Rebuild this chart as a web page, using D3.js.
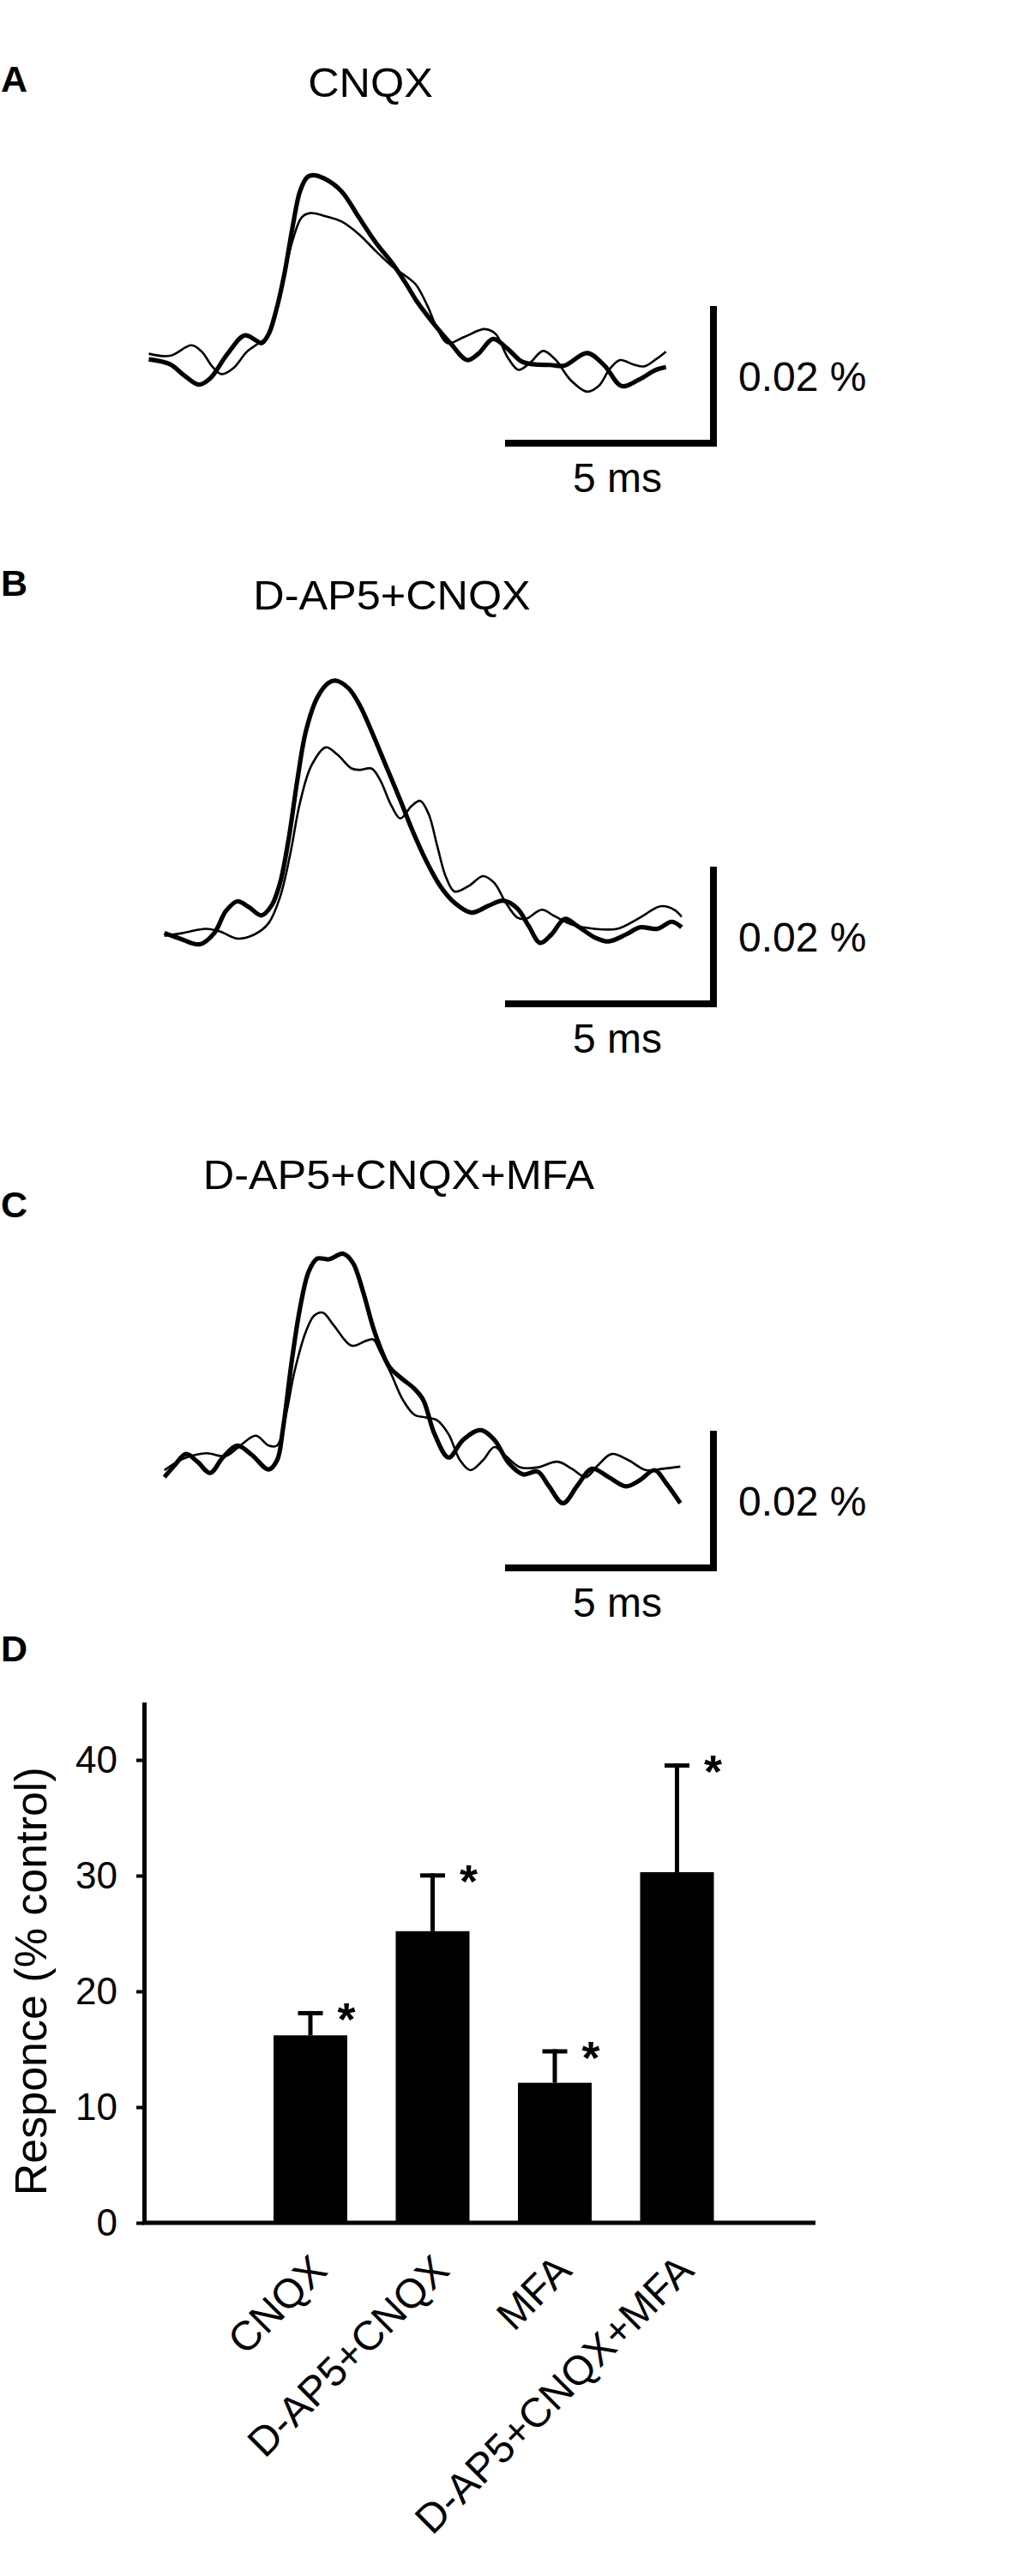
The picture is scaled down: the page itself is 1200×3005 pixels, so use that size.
<!DOCTYPE html>
<html>
<head>
<meta charset="utf-8">
<script src="https://cdn.jsdelivr.net/npm/d3@7/dist/d3.min.js"></script>
<style>
  html, body { margin: 0; padding: 0; background: #fff; }
  svg text { font-family: "Liberation Sans", Arial, Helvetica, sans-serif; fill: #000; }
</style>
</head>
<body>
<svg id="fig" width="1200" height="3005"></svg>
<script>
// ---------------- DATA ----------------
// Traces: [time (ms), response (%)]
const traceA_thick = [[0.01,0.0001],[0.51,-0.0006],[0.85,-0.0022],[1.19,-0.0035],[1.46,-0.0026],[1.86,0.0008],[2.27,0.0035],[2.54,0.0028],[2.67,0.0024],[2.84,0.0037],[3.01,0.0069],[3.21,0.0122],[3.41,0.0191],[3.58,0.0240],[3.75,0.0260],[3.89,0.0263],[4.16,0.0258],[4.56,0.0240],[4.97,0.0203],[5.37,0.0167],[5.78,0.0136],[6.11,0.0106],[6.32,0.0085],[6.72,0.0053],[7.13,0.0024],[7.53,0.0000],[7.79,0.0009],[8.14,0.0030],[8.48,0.0016],[8.81,-0.0002],[9.08,-0.0006],[9.49,-0.0007],[9.82,-0.0008],[10.36,0.0010],[10.77,-0.0008],[11.17,-0.0037],[11.58,-0.0028],[11.98,-0.0014],[12.22,-0.0010]];
const traceA_thin = [[0.01,0.0009],[0.51,0.0006],[1.02,0.0021],[1.26,0.0012],[1.52,-0.0010],[1.73,-0.0020],[2.00,-0.0012],[2.33,0.0012],[2.61,0.0024],[2.81,0.0033],[3.01,0.0065],[3.21,0.0122],[3.41,0.0171],[3.62,0.0203],[3.82,0.0209],[4.16,0.0205],[4.56,0.0197],[4.97,0.0179],[5.37,0.0155],[5.78,0.0132],[6.11,0.0118],[6.32,0.0107],[6.59,0.0077],[6.79,0.0049],[7.06,0.0024],[7.46,0.0033],[7.94,0.0044],[8.20,0.0037],[8.48,0.0004],[8.74,-0.0014],[9.01,-0.0004],[9.32,0.0013],[9.62,0.0000],[9.96,-0.0028],[10.36,-0.0045],[10.63,-0.0037],[10.90,-0.0012],[11.14,0.0000],[11.44,-0.0006],[11.71,-0.0009],[11.98,0.0001],[12.22,0.0012]];
const traceB_thick = [[0.00,0.0002],[0.37,-0.0006],[0.84,-0.0014],[1.18,0.0002],[1.45,0.0033],[1.72,0.0047],[1.99,0.0039],[2.29,0.0027],[2.53,0.0041],[2.73,0.0073],[2.94,0.0138],[3.14,0.0220],[3.34,0.0289],[3.61,0.0337],[3.88,0.0358],[4.05,0.0361],[4.35,0.0350],[4.62,0.0325],[4.89,0.0289],[5.23,0.0240],[5.57,0.0191],[5.84,0.0150],[6.17,0.0106],[6.51,0.0069],[6.85,0.0045],[7.25,0.0031],[7.66,0.0041],[8.00,0.0048],[8.33,0.0037],[8.60,0.0012],[8.87,-0.0012],[9.14,0.0000],[9.45,0.0022],[9.75,0.0012],[10.15,-0.0004],[10.49,-0.0010],[10.90,0.0000],[11.23,0.0010],[11.64,0.0008],[11.98,0.0018],[12.21,0.0010]];
const traceB_thin = [[0.00,-0.0002],[0.44,0.0002],[0.98,0.0008],[1.32,0.0004],[1.72,-0.0006],[2.13,0.0000],[2.46,0.0016],[2.73,0.0053],[2.97,0.0114],[3.20,0.0187],[3.47,0.0240],[3.81,0.0266],[4.08,0.0256],[4.42,0.0236],[4.62,0.0234],[4.89,0.0236],[5.09,0.0220],[5.36,0.0183],[5.57,0.0165],[5.84,0.0183],[6.04,0.0190],[6.24,0.0171],[6.44,0.0126],[6.65,0.0081],[6.85,0.0061],[7.19,0.0069],[7.52,0.0083],[7.79,0.0073],[8.06,0.0045],[8.33,0.0024],[8.53,0.0022],[8.91,0.0035],[9.21,0.0026],[9.62,0.0014],[10.15,0.0008],[10.69,0.0008],[11.23,0.0024],[11.71,0.0040],[12.04,0.0035],[12.21,0.0025]];
const traceC_thick = [[0.00,-0.0010],[0.23,0.0006],[0.51,0.0023],[0.78,0.0012],[1.08,-0.0004],[1.38,0.0018],[1.72,0.0035],[2.06,0.0022],[2.46,0.0001],[2.66,0.0014],[2.80,0.0059],[3.00,0.0152],[3.20,0.0230],[3.41,0.0283],[3.61,0.0301],[3.88,0.0300],[4.22,0.0308],[4.45,0.0295],[4.69,0.0254],[4.96,0.0197],[5.30,0.0148],[5.57,0.0132],[5.90,0.0116],[6.11,0.0100],[6.38,0.0051],[6.71,0.0018],[7.05,0.0043],[7.46,0.0057],[7.79,0.0043],[8.13,0.0010],[8.47,-0.0006],[8.81,-0.0002],[9.07,-0.0022],[9.41,-0.0047],[9.75,-0.0022],[10.09,0.0002],[10.49,-0.0010],[10.90,-0.0023],[11.23,-0.0014],[11.57,0.0000],[11.84,-0.0018],[12.18,-0.0047]];
const traceC_thin = [[0.00,0.0000],[0.44,0.0016],[0.98,0.0024],[1.45,0.0020],[1.79,0.0035],[2.16,0.0049],[2.46,0.0035],[2.66,0.0035],[2.87,0.0079],[3.07,0.0140],[3.34,0.0197],[3.54,0.0220],[3.74,0.0224],[4.01,0.0205],[4.42,0.0177],[4.76,0.0184],[4.93,0.0186],[5.09,0.0169],[5.36,0.0136],[5.63,0.0100],[5.90,0.0079],[6.17,0.0075],[6.44,0.0071],[6.71,0.0051],[6.98,0.0014],[7.22,0.0000],[7.52,0.0014],[7.79,0.0033],[8.06,0.0020],[8.40,0.0004],[8.81,0.0004],[9.28,0.0012],[9.62,0.0002],[9.95,-0.0010],[10.22,0.0006],[10.56,0.0023],[10.96,0.0014],[11.37,0.0000],[11.77,0.0002],[12.18,0.0005]];

const panelLetters = ["A", "B", "C", "D"];
const panelTitles = ["CNQX", "D-AP5+CNQX", "D-AP5+CNQX+MFA"];
const scaleTime = 5;        // ms
const scaleAmp = 0.02;      // %
const scaleTimeLabel = "5 ms";
const scaleAmpLabel = "0.02 %";

// Bar chart (panel D)
const categories = ["CNQX", "D-AP5+CNQX", "MFA", "D-AP5+CNQX+MFA"];
const means = [16.2, 25.2, 12.1, 30.3];
const sems = [2.1, 5.0, 2.9, 9.4];
const significant = [true, true, true, true];
const yTicks = [0, 10, 20, 30, 40];
const yTitle = "Responce (% control)";

// ---------------- DRAW ----------------
const svg = d3.select("#fig");
const FONT_BOLD = 43;

// Panel letters
const letterPos = [[1, 107], [1, 695], [1, 1420], [1, 1938]];
panelLetters.forEach((L, i) => {
  svg.append("text").attr("x", letterPos[i][0]).attr("y", letterPos[i][1])
    .attr("font-size", FONT_BOLD).attr("font-weight", "bold").text(L);
});

// Trace panels layout
const pxPerMs = 49.4, pxPerAmp = 164 / 0.02;
const panels = [
  { title: panelTitles[0], titleX: 432, titleY: 113, x0: 173, y0: 420, barX: 832, barY: 517, thick: traceA_thick, thin: traceA_thin },
  { title: panelTitles[1], titleX: 457, titleY: 711, x0: 191.7, y0: 1090, barX: 832, barY: 1171, thick: traceB_thick, thin: traceB_thin },
  { title: panelTitles[2], titleX: 465, titleY: 1387, x0: 191.7, y0: 1715, barX: 832, barY: 1829, thick: traceC_thick, thin: traceC_thin }
];

panels.forEach(p => {
  const g = svg.append("g");
  const x = d3.scaleLinear().domain([0, 1]).range([p.x0, p.x0 + pxPerMs]);
  const y = d3.scaleLinear().domain([0, 1]).range([p.y0, p.y0 - pxPerAmp]);

  g.append("text").attr("x", 0).attr("y", 0)
    .attr("transform", `translate(${p.titleX},${p.titleY}) scale(1.05,1)`)
    .attr("text-anchor", "middle").attr("font-size", 48).text(p.title);

  const line = d3.line().x(d => x(d[0])).y(d => y(d[1])).curve(d3.curveCatmullRom.alpha(0.5));
  g.append("path").datum(p.thin).attr("d", line)
    .attr("fill", "none").attr("stroke", "#000").attr("stroke-width", 2.6).attr("stroke-linejoin", "round");
  g.append("path").datum(p.thick).attr("d", line)
    .attr("fill", "none").attr("stroke", "#000").attr("stroke-width", 5.2).attr("stroke-linejoin", "round");

  // scale bars
  const hLen = x(scaleTime) - x(0);
  const vLen = y(0) - y(scaleAmp);
  const sw = 8;
  g.append("line").attr("x1", p.barX + sw / 2 - hLen).attr("x2", p.barX + sw / 2)
    .attr("y1", p.barY).attr("y2", p.barY).attr("stroke", "#000").attr("stroke-width", sw);
  g.append("line").attr("x1", p.barX).attr("x2", p.barX)
    .attr("y1", p.barY + sw / 2).attr("y2", p.barY + sw / 2 - vLen).attr("stroke", "#000").attr("stroke-width", sw);
  g.append("text").attr("x", p.barX + 29).attr("y", p.barY + sw / 2 - vLen + 99)
    .attr("font-size", 48).text(scaleAmpLabel);
  g.append("text").attr("x", p.barX - 112).attr("y", p.barY + 57)
    .attr("text-anchor", "middle").attr("font-size", 48).text(scaleTimeLabel);
});

// Panel D bar chart
const yB = d3.scaleLinear().domain([0, 45]).range([2593, 1985.5]);
const xB = d3.scaleBand().domain(categories).range([290.75, 860.75])
  .paddingInner(0.3965).paddingOuter(0.19825);
const axisX0 = 168, axisX1 = 951;

const gD = svg.append("g");
// bars
gD.selectAll("rect.bar").data(categories).join("rect").attr("class", "bar")
  .attr("x", d => xB(d)).attr("width", xB.bandwidth())
  .attr("y", (d, i) => yB(means[i])).attr("height", (d, i) => yB(0) - yB(means[i]))
  .attr("fill", "#000");
// error bars
categories.forEach((c, i) => {
  const cx = xB(c) + xB.bandwidth() / 2;
  const top = yB(means[i] + sems[i]);
  gD.append("line").attr("x1", cx).attr("x2", cx).attr("y1", yB(means[i])).attr("y2", top)
    .attr("stroke", "#000").attr("stroke-width", 5);
  gD.append("line").attr("x1", cx - 14.5).attr("x2", cx + 14.5).attr("y1", top + 2.5).attr("y2", top + 2.5)
    .attr("stroke", "#000").attr("stroke-width", 5);
  if (significant[i]) {
    gD.append("text").attr("x", cx + 42).attr("y", top + 28)
      .attr("text-anchor", "middle").attr("font-size", 54).attr("font-weight", "bold").text("*");
  }
});
// y axis
const yAxis = d3.axisLeft(yB).tickValues(yTicks).tickSize(9).tickSizeOuter(0).tickPadding(22)
  .tickFormat(d3.format("d"));
const gy = gD.append("g").attr("transform", `translate(${axisX0},0)`).call(yAxis);
gy.select(".domain").attr("stroke-width", 5).attr("stroke", "#000");
gy.selectAll(".tick line").attr("stroke-width", 4).attr("stroke", "#000");
gy.selectAll(".tick text").attr("font-size", 44).attr("font-family", "Liberation Sans, Arial, sans-serif").attr("fill", "#000");
// x axis line
gD.append("line").attr("x1", axisX0 - 2.5).attr("x2", axisX1).attr("y1", yB(0)).attr("y2", yB(0))
  .attr("stroke", "#000").attr("stroke-width", 5);
// x labels
categories.forEach(c => {
  const cx = xB(c) + xB.bandwidth() / 2 + 22;
  gD.append("text").attr("transform", `translate(${cx},${yB(0) + 58}) rotate(-45)`)
    .attr("text-anchor", "end").attr("font-size", 48).text(c);
});
// y title
gD.append("text").attr("transform", `translate(54,${(yB(0) + yB(45)) / 2 + 22}) rotate(-90)`)
  .attr("text-anchor", "middle").attr("font-size", 52).text(yTitle);
</script>
</body>
</html>
